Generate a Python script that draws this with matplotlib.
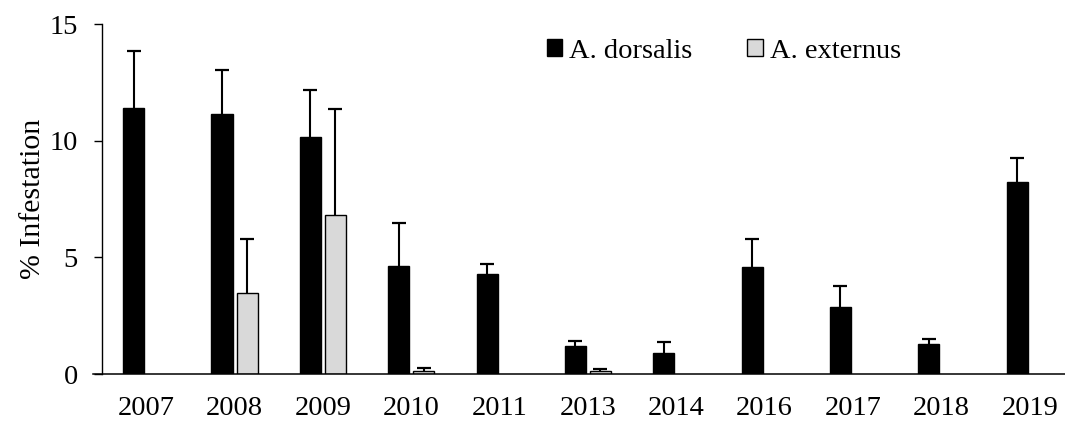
import numpy as np
import matplotlib
matplotlib.use("Agg")
import matplotlib.pyplot as plt
from matplotlib.patches import Patch

plt.rcParams['font.family'] = ['Liberation Serif', 'DejaVu Serif']

years = ["2007", "2008", "2009", "2010", "2011", "2013", "2014", "2016", "2017", "2018", "2019"]
dorsalis = [11.40, 11.15, 10.18, 4.65, 4.28, 1.21, 0.89, 4.59, 2.89, 1.29, 8.25]
dorsalis_err = [2.46, 1.88, 2.00, 1.83, 0.43, 0.22, 0.50, 1.20, 0.89, 0.22, 1.00]
externus = [np.nan, 3.46, 6.82, 0.14, np.nan, 0.14, np.nan, np.nan, np.nan, np.nan, np.nan]
externus_err = [np.nan, 2.32, 4.53, 0.13, np.nan, 0.06, np.nan, np.nan, np.nan, np.nan, np.nan]
series_names = ["A. dorsalis", "A. externus"]
colors = ["#000000", "#d9d9d9"]
yticks = [0, 5, 10, 15]

W, H = 1065, 421
fig = plt.figure(figsize=(W / 100, H / 100), dpi=100)
ax = fig.add_axes([102 / W, 47 / H, 963 / W, 349.7 / H])

x = np.arange(len(years))
bw = 0.238
off = 0.1416
fs = 20.5

d = np.array(dorsalis, dtype=float)
e = np.array(externus, dtype=float)
de = np.array(dorsalis_err, dtype=float)
ee = np.array(externus_err, dtype=float)

ax.bar(x - off, d, width=bw, color=colors[0], edgecolor="black", linewidth=1.0, zorder=2)
mask = ~np.isnan(e)
ax.bar(x[mask] + off, e[mask], width=bw, color=colors[1], edgecolor="black", linewidth=1.0, zorder=2)

eb1 = ax.errorbar(x - off, d, yerr=[np.zeros_like(de), de], fmt="none", ecolor="black",
                  elinewidth=1.5, capsize=5, capthick=1.6, zorder=1)
eb2 = ax.errorbar(x[mask] + off, e[mask], yerr=[np.zeros(mask.sum()), ee[mask]], fmt="none",
                  ecolor="black", elinewidth=1.5, capsize=5, capthick=1.6, zorder=1)
for eb in (eb1, eb2):
    caps = eb[1]
    if len(caps) == 2:
        caps[0].set_visible(False)

ax.set_xlim(-0.5, 10.4)
ax.set_ylim(0, 15)
ax.set_yticks(yticks)
ax.set_xticks(x)
ax.set_xticklabels(years)
ax.tick_params(axis="x", length=0, pad=16, labelsize=fs)
ax.tick_params(axis="y", length=5.5, width=1.0, pad=12, labelsize=fs, direction="out")
for s in ["top", "right"]:
    ax.spines[s].set_visible(False)
ax.spines["left"].set_linewidth(1.0)
ax.spines["bottom"].set_linewidth(1.1)
ax.spines["bottom"].set_bounds(-0.6, 10.4)

ax.set_ylabel("% Infestation", fontsize=fs + 1)
ax.yaxis.set_label_coords(-0.058, 0.5)

handles = [Patch(facecolor=colors[0], edgecolor="black", linewidth=1.0),
           Patch(facecolor=colors[1], edgecolor="black", linewidth=1.0)]
fig.legend(handles, series_names, loc="center left", bbox_to_anchor=(547 / W, 1 - 51 / H),
           ncol=2, frameon=False, fontsize=fs, handlelength=0.53, handleheight=0.53,
           handletextpad=0.25, columnspacing=1.93, borderpad=0, borderaxespad=0)

fig.savefig("out.png", dpi=100)
